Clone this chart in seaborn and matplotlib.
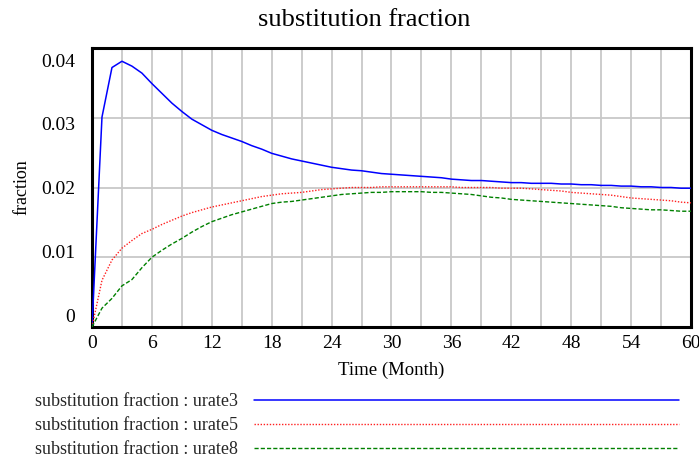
import numpy as np
import pandas as pd
import matplotlib
matplotlib.use("Agg")
import matplotlib.pyplot as plt
import matplotlib.transforms as mtransforms
from matplotlib.lines import Line2D
import seaborn as sns

months = list(range(0, 61))
urate3 = [0, 0.0301, 0.0372, 0.0381, 0.0374, 0.0364, 0.0349, 0.0335, 0.0321, 0.0309,
          0.0298, 0.0290, 0.0282, 0.0276, 0.0271, 0.0266, 0.0260, 0.0255, 0.0249, 0.0245,
          0.0241, 0.0238, 0.0235, 0.0232, 0.0229, 0.0227, 0.0225, 0.0224, 0.0222, 0.0220,
          0.0219, 0.0218, 0.0217, 0.0216, 0.0215, 0.0214, 0.0212, 0.0211, 0.0210, 0.0210,
          0.0209, 0.0208, 0.0207, 0.0207, 0.0206, 0.0206, 0.0206, 0.0205, 0.0205, 0.0204,
          0.0204, 0.0203, 0.0203, 0.0202, 0.0202, 0.0201, 0.0201, 0.0200, 0.0200, 0.0199,
          0.0199]
urate5 = [0, 0.0067, 0.0096, 0.0113, 0.0124, 0.0134, 0.0140, 0.0147, 0.0153, 0.0159,
          0.0164, 0.0168, 0.0172, 0.0175, 0.0178, 0.0181, 0.0184, 0.0187, 0.0189, 0.0191,
          0.0192, 0.0193, 0.0195, 0.0197, 0.0198, 0.0199, 0.0200, 0.0200, 0.0200, 0.0201,
          0.0201, 0.0201, 0.0201, 0.0201, 0.0201, 0.0201, 0.0201, 0.0200, 0.0200, 0.0200,
          0.0200, 0.0199, 0.0199, 0.0199, 0.0198, 0.0197, 0.0196, 0.0195, 0.0193, 0.0192,
          0.0191, 0.0190, 0.0189, 0.0187, 0.0185, 0.0184, 0.0183, 0.0182, 0.0181, 0.0179,
          0.0178]
urate8 = [0, 0.0027, 0.0041, 0.0059, 0.0068, 0.0085, 0.0100, 0.0110, 0.0119, 0.0127,
          0.0136, 0.0144, 0.0151, 0.0156, 0.0161, 0.0165, 0.0169, 0.0173, 0.0177, 0.0179,
          0.0180, 0.0182, 0.0184, 0.0186, 0.0188, 0.0190, 0.0191, 0.0192, 0.0193, 0.0193,
          0.0194, 0.0194, 0.0194, 0.0194, 0.0193, 0.0193, 0.0192, 0.0191, 0.0190, 0.0188,
          0.0186, 0.0185, 0.0183, 0.0182, 0.0181, 0.0180, 0.0179, 0.0178, 0.0177, 0.0176,
          0.0175, 0.0174, 0.0173, 0.0171, 0.0170, 0.0169, 0.0168, 0.0168, 0.0167, 0.0166,
          0.0166]
series_names = ["urate3", "urate5", "urate8"]
legend_labels = ["substitution fraction : urate3",
                 "substitution fraction : urate5",
                 "substitution fraction : urate8"]
xticks = list(range(0, 61, 6))
yticks = [0, 0.01, 0.02, 0.03, 0.04]
ytick_labels = ["0", "0.01", "0.02", "0.03", "0.04"]

sns.set_theme(style="white")
plt.rcParams["font.family"] = ["Liberation Serif", "DejaVu Serif"]

fig = plt.figure(figsize=(6.99, 4.61), dpi=100)
ax = fig.add_axes([92/699, 1-327/461, (691-92)/699, (327-48)/461])

df = pd.DataFrame({"Time": months * 3,
                   "value": urate3 + urate5 + urate8,
                   "series": sum([[n] * len(months) for n in series_names], [])})

styles = {"urate3": dict(color="#0000ff", ls="-", lw=1.1),
          "urate5": dict(color="#ff2020", ls=(0, (1, 1.2)), lw=1.0),
          "urate8": dict(color="#008000", ls=(0, (3, 1.5)), lw=1.0)}
handles = []
for name in series_names:
    st = styles[name]
    sub = df[df.series == name]
    sns.lineplot(data=sub, x="Time", y="value", ax=ax, color=st["color"],
                 linestyle=st["ls"], linewidth=st["lw"], legend=False, zorder=3)
    handles.append(Line2D([], [], color=st["color"], linestyle=st["ls"], linewidth=st["lw"]))

ax.set_xlim(0, 60)
ax.set_ylim(0, 0.04)
ax.set_xticks(xticks)
ax.set_xticks(list(range(0, 61, 3)), minor=True)
ax.set_yticks(yticks)
ax.set_yticklabels(ytick_labels)
ax.grid(True, which="both", axis="x", color="#c8c8c8", lw=1.3)
ax.grid(True, which="major", axis="y", color="#c8c8c8", lw=1.3)
ax.set_axisbelow(True)
ax.tick_params(which="both", length=0, labelsize=14, colors="black")
ax.tick_params(axis="x", pad=6)
ax.tick_params(axis="y", pad=12)
for s in ax.spines.values():
    s.set_color("black")
    s.set_linewidth(2.2)

# Vensim-like inset of outer y labels (6 px per gridline step toward centre)
for lbl, v in zip(ax.get_yticklabels(), yticks):
    dy_px = -(v - 0.02) / 0.01 * 6
    lbl.set_transform(lbl.get_transform() +
                      mtransforms.ScaledTranslation(0, dy_px / 100, fig.dpi_scale_trans))

ax.set_xlabel("Time (Month)", fontsize=13.5, color="black", labelpad=7)
ax.set_ylabel("fraction", fontsize=13, color="black", labelpad=8)
fig.text(364/699, 1-20/461, "substitution fraction", ha="center", va="center",
         fontsize=19, color="black")

leg = fig.legend(handles, legend_labels, loc="upper left",
                 bbox_to_anchor=(28/699, 1-386/461), markerfirst=False,
                 frameon=False, fontsize=13, handlelength=23.5, handletextpad=0.9,
                 labelspacing=0.38, borderaxespad=0)

fig.savefig("out.png", dpi=100)
